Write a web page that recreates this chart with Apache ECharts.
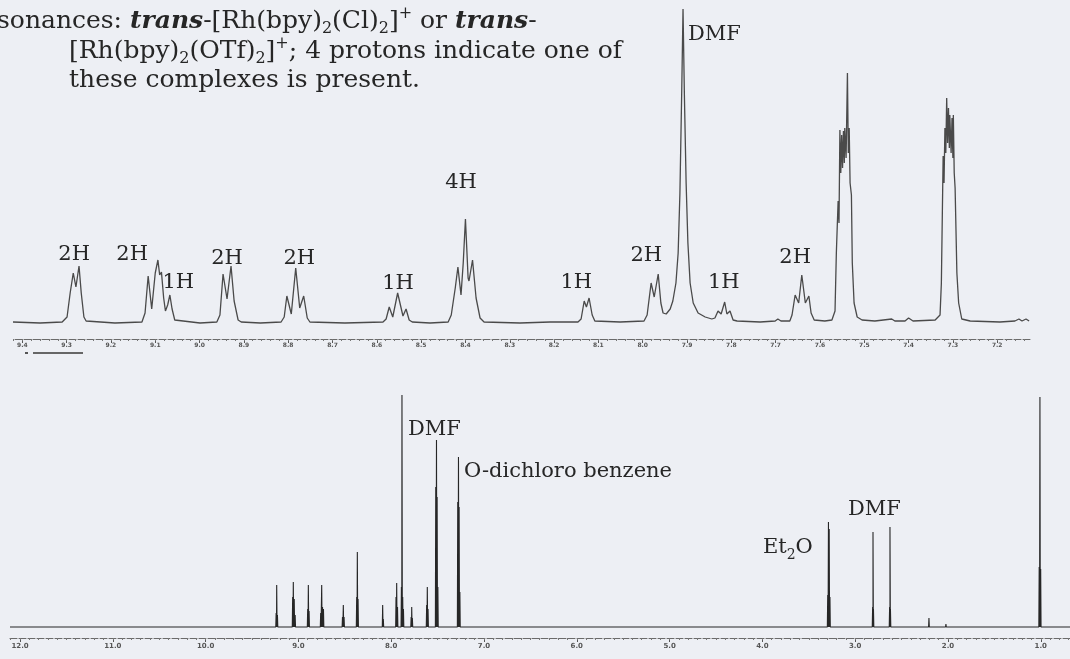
<!DOCTYPE html>
<html>
<head>
<meta charset="utf-8">
<script src="https://cdn.jsdelivr.net/npm/echarts@6/dist/echarts.min.js"></script>
<style>
html,body{margin:0;padding:0;background:#edeff4;}
#c{width:1070px;height:659px;}
</style>
</head>
<body>
<div id="c"></div>
<script>
// ---------- DATA (ppm, intensity) ----------
// Expanded aromatic region (top trace), vertices of the drawn curve
const topTraceA = [
  [9.421,1],[9.360,0],[9.310,1],
  [9.299,6],[9.292,30],[9.285,50],[9.279,36],[9.272,57],[9.267,30],[9.261,6],[9.256,2],
  [9.191,0],[9.130,1],
  [9.123,10],[9.116,47],[9.108,14],[9.100,50],[9.094,63],[9.090,48],[9.086,51],[9.081,25],[9.077,12],[9.072,18],[9.067,28],[9.062,14],[9.056,3],
  [8.999,0],[8.961,1],
  [8.954,8],[8.947,49],[8.938,24],[8.929,57],[8.922,22],[8.913,3],[8.906,1],
  [8.863,0]
];
const topTraceB = [
  [8.816,1],[8.809,6],[8.803,27],[8.793,9],[8.783,55],[8.774,15],[8.765,27],[8.757,5],[8.751,1],
  [8.672,0],[8.586,1],
  [8.579,4],[8.572,16],[8.564,6],[8.553,30],[8.541,7],[8.534,14],[8.527,3],[8.520,1],
  [8.480,0],[8.439,1],
  [8.432,8],[8.423,35],[8.417,56],[8.410,28],[8.405,60],[8.400,104],[8.394,45],[8.392,42],[8.384,63],[8.376,25],[8.367,5],[8.358,1],
  [8.277,0],[8.209,1],[8.146,1],
  [8.139,4],[8.132,22],[8.127,16],[8.121,25],[8.114,8],[8.108,2],
  [8.051,1],[7.997,2],
  [7.990,8],[7.981,40],[7.974,26],[7.965,49],[7.959,20],[7.954,10],[7.947,9],
  [7.938,14],[7.932,22],[7.925,40],[7.920,70],[7.916,130],[7.912,230],[7.909,314],[7.906,230],[7.902,140],[7.898,80],[7.893,40],[7.886,20],[7.875,10],[7.859,6],[7.844,4],
  [7.837,5],[7.830,12],[7.823,9],[7.815,21],[7.810,9],[7.803,12],[7.796,3],[7.787,2]
];
const topTraceC = [
  [7.735,1],[7.701,2],[7.695,4],[7.688,2],[7.668,2],
  [7.663,8],[7.656,28],[7.648,20],[7.641,48],[7.633,20],[7.625,27],[7.620,10],[7.613,3],
  [7.589,2],[7.573,3],[7.566,12],
  [7.563,70],[7.559,122],[7.557,100],[7.555,193],[7.553,150],[7.551,188],[7.549,155],[7.547,192],[7.545,160],[7.544,195],[7.541,165],[7.538,250],[7.536,170],[7.534,195],[7.532,140],[7.529,128],[7.527,60],[7.523,20],[7.516,6],[7.505,3],
  [7.476,2],[7.438,4],[7.431,2],[7.408,2],[7.400,5],[7.390,2],[7.340,3],[7.329,8],
  [7.326,40],[7.322,167],[7.320,140],[7.318,195],[7.316,170],[7.314,225],[7.312,180],[7.310,215],[7.308,175],[7.307,208],[7.304,170],[7.302,205],[7.300,165],[7.299,208],[7.297,150],[7.295,135],[7.291,50],[7.287,20],[7.280,4],[7.261,2],
  [7.194,1],[7.160,2],[7.151,4],[7.144,2],[7.135,4],[7.128,2]
];
// Full spectrum (bottom): individual lines [ppm, height]
const bottomLines = [
  [9.240,14],[9.234,42],[9.226,12],
  [9.062,30],[9.055,45],[9.045,28],[9.035,12],
  [8.900,18],[8.893,42],[8.885,16],
  [8.760,14],[8.749,42],[8.740,20],[8.730,18],
  [8.525,10],[8.516,22],[8.508,10],
  [8.372,30],[8.365,75],[8.357,28],
  [8.092,22],[8.085,8],
  [7.948,30],[7.941,44],[7.932,20],
  [7.890,40],[7.884,232],[7.876,30],[7.868,18],
  [7.785,10],[7.779,20],[7.772,9],
  [7.618,22],[7.611,40],[7.603,18],
  [7.520,140],[7.512,187],[7.505,130],[7.497,40],
  [7.283,125],[7.275,170],[7.268,120],[7.260,35],
  [7.050,2],
  [3.296,32],[3.288,105],[3.280,98],[3.272,30],
  [2.812,20],[2.808,95],[2.803,18],
  [2.629,20],[2.625,100],[2.620,18],
  [2.205,9],[2.022,3],[1.784,2],
  [1.017,60],[1.009,230],[1.001,58]
];
// Tick labels
const topTicks = [9.4,9.3,9.2,9.1,9.0,8.9,8.8,8.7,8.6,8.5,8.4,8.3,8.2,8.1,8.0,7.9,7.8,7.7,7.6,7.5,7.4,7.3,7.2];
const bottomTicks = [12.0,11.0,10.0,9.0,8.0,7.0,6.0,5.0,4.0,3.0,2.0,1.0];
// Annotations [text, ppm, intensity]
const topNotes = [['2H',9.283,68],['2H',9.152,68],['1H',9.048,40],['2H',8.938,64],['2H',8.775,64],
  ['1H',8.552,39],['4H',8.410,140],['1H',8.150,40],['2H',7.992,67],['1H',7.817,40],['2H',7.656,65]];
const topSideNotes = [['DMF',7.898,288]];
const bottomSideNotes = [['DMF',7.819,197],['O-dichloro benzene',7.216,155],['Et_2O',3.994,79],['DMF',3.078,117]];

// ---------- BUILD ----------
const topTrace = topTraceA.concat(topTraceB, topTraceC);
const bottomTrace = [[12.108,0]];
bottomLines.slice().sort((a,b)=>b[0]-a[0]).forEach(([p,h])=>{
  bottomTrace.push([p+0.004,0],[p,h],[p-0.004,0]);
});
bottomTrace.push([0.685,0]);
const topMinor = []; for (let i=357;i<=471;i++) topMinor.push(i/50);
const bottomMinor = []; for (let i=7;i<=121;i++) bottomMinor.push(i/10);

const serif = 'DejaVu Serif';
const ink = '#262626';
const noteFmt = p => '{a|' + p.name.replace(/_(\d)/g,'}{s|$1}{a|') + '}';
const noteRich = {a:{fontFamily:serif,fontSize:21,color:ink,lineHeight:26,fontWeight:'normal'},
                  s:{fontFamily:serif,fontSize:14,color:ink,lineHeight:26,fontWeight:'normal',padding:[14,0,0,0]}};
function notes(arr, grid, side){
  return {
    type:'scatter', xAxisIndex:grid*2, yAxisIndex:grid, symbolSize:0, silent:true, z:5,
    itemStyle:{opacity:1},
    data: arr.map(([t,p,h])=>({name:t, value:[p,h]})),
    label:{show:true, position: side ? 'right' : 'inside', distance:0, color:ink, opacity:1,
           formatter:noteFmt, rich:noteRich}
  };
}
function xAxes(grid, min, max, major, minor, fs, margin){
  return [
    {type:'value', gridIndex:grid, position:'bottom', inverse:true, min:min, max:max,
     axisLine:{show:true, onZero:false, lineStyle:{color:'#6a6a6a', width:1, type:[7,2]}},
     axisTick:{show:true, customValues:major, length:4, lineStyle:{color:'#555'}},
     axisLabel:{show:true, customValues:major, formatter:v=>v.toFixed(1), fontSize:fs, fontWeight:'bold',
                color:'#555', margin:margin, fontFamily:'DejaVu Sans'},
     splitLine:{show:false}},
    {type:'value', gridIndex:grid, position:'bottom', inverse:true, min:min, max:max,
     axisLine:{show:false, onZero:false},
     axisTick:{show:true, customValues:minor, length:2, lineStyle:{color:'#777'}},
     axisLabel:{show:false}, splitLine:{show:false}}
  ];
}
const rich = {
  n:{fontFamily:serif,fontSize:25,color:ink,lineHeight:30,fontWeight:'normal'},
  i:{fontFamily:serif,fontSize:25,color:ink,lineHeight:30,fontStyle:'italic',fontWeight:'bold'},
  sb:{fontFamily:serif,fontSize:16,color:ink,lineHeight:30,fontWeight:'normal',padding:[16,0,0,0]},
  sp:{fontFamily:serif,fontSize:16,color:ink,lineHeight:30,fontWeight:'normal',padding:[0,0,14,0]}
};
const ts = {fontWeight:'normal', rich:rich};
const chart = echarts.init(document.getElementById('c'), null, {renderer:'canvas'});
chart.setOption({
  animation:false,
  backgroundColor:'#edeff4',
  title:[
    {left:-3, top:6, padding:0, textStyle:ts,
     text:'{n|sonances: }{i|trans}{n|-[Rh(bpy)}{sb|2}{n|(Cl)}{sb|2}{n|]}{sp|+}{n| or }{i|trans}{n|-}'},
    {left:69, top:36, padding:0, textStyle:ts,
     text:'{n|[Rh(bpy)}{sb|2}{n|(OTf)}{sb|2}{n|]}{sp|+}{n|; 4 protons indicate one of}'},
    {left:69, top:65, padding:0, textStyle:ts,
     text:'{n|these complexes is present.}'}
  ],
  grid:[
    {left:13, right:40, top:5, bottom:320},
    {left:10, right:0, top:380, bottom:21}
  ],
  xAxis: xAxes(0, 7.126, 9.421, topTicks, topMinor, 6, 3)
    .concat(xAxes(1, 0.685, 12.108, bottomTicks, bottomMinor, 7, 5)),
  yAxis:[
    {type:'value', gridIndex:0, min:-16, max:318, show:false},
    {type:'value', gridIndex:1, min:-11, max:247, show:false}
  ],
  graphic:[
    {type:'rect', shape:{x:25,y:352,width:3,height:2}, style:{fill:'#555'}},
    {type:'rect', shape:{x:33,y:352,width:50,height:2}, style:{fill:'#666'}}
  ],
  series:[
    {type:'line', xAxisIndex:0, yAxisIndex:0, data:topTrace, showSymbol:false, silent:true,
     lineStyle:{color:'#4a4a4a', width:1.3}},
    {type:'line', xAxisIndex:2, yAxisIndex:1, data:bottomTrace, showSymbol:false, silent:true,
     lineStyle:{color:'#262626', width:1.1}},
    notes(topNotes, 0, false),
    notes(topSideNotes, 0, true),
    notes(bottomSideNotes, 1, true)
  ]
});
</script>
</body>
</html>
